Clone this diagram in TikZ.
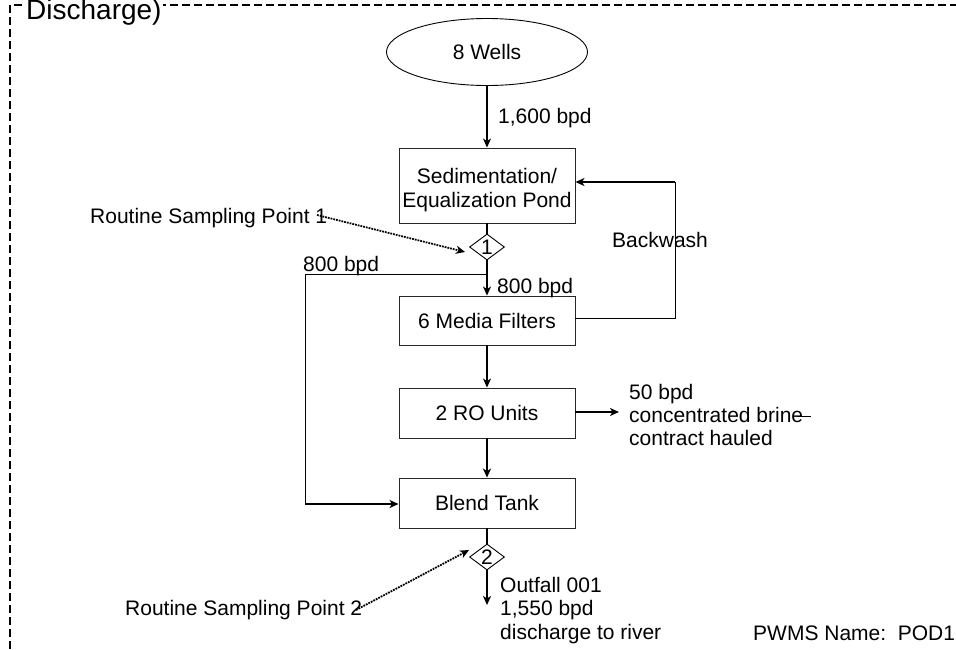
\documentclass[tikz,border=0pt]{standalone}
\usepackage{fontspec}
\setmainfont{Liberation Sans}
\usetikzlibrary{arrows.meta,shapes.geometric}
\begin{document}
\begin{tikzpicture}[x=1pt,y=-1pt,
  font=\fontsize{21}{23.5}\selectfont,
  tip/.tip={Stealth[length=9pt,width=8pt,inset=2.5pt]},
  unitbox/.style={draw=black!85,line width=0.9pt,minimum width=176pt,inner sep=0pt,align=center},
  samplept/.style={draw,line width=0.9pt,diamond,minimum width=35pt,minimum height=26pt,inner sep=0pt},
  flow/.style={line width=1.6pt,-tip},
  pipe/.style={line width=1.6pt},
  thinpipe/.style={line width=1pt},
  probe/.style={line width=1.8pt,densely dotted,-tip},
  lbl/.style={anchor=base west,inner sep=0pt},
  frameline/.style={line width=1.2pt,dash pattern=on 8pt off 4pt}]
\useasboundingbox (0,0) rectangle (956,649);

% outer dashed boundary
\draw[frameline] (10,649) -- (10,5) -- (956,5);
\node[lbl,fill=white,inner xsep=1pt,font=\fontsize{28}{30}\selectfont] (title) at (25,19) {Discharge)};

% process units
\node[draw,line width=0.9pt,ellipse,minimum width=201pt,minimum height=67pt,inner sep=0pt] (wells) at (487,52) {8 Wells};
\node[unitbox,minimum height=75pt] (pond) at (487,185.5) {\rule{0pt}{24pt}Sedimentation/\\Equalization Pond};
\node[samplept] (sp1) at (487,247) {};
\node[inner sep=0pt] (sp1t) at (487,247.5) {1};
\node[unitbox,minimum height=49pt] (filters) at (487,320.5) {6 Media Filters};
\node[unitbox,minimum height=50pt] (ro) at (487,413) {2 RO Units};
\node[unitbox,minimum height=50pt] (blend) at (487,503) {Blend Tank};
\node[samplept] (sp2) at (487,557) {};
\node[inner sep=0pt] (sp2t) at (487,557.5) {2};

% free ends and bends
\coordinate (split) at (487,274);
\coordinate (bypassTop) at (305,274);
\coordinate (bypassBot) at (305,504);
\coordinate (bwTop) at (675,182);
\coordinate (brine) at (619,412);
\coordinate (outfall) at (487,605);
\coordinate (probe1) at (317,215);
\coordinate (probe2) at (356,610);

% main flow
\draw[flow] (wells.south) -- (pond.north);
\draw[pipe] (pond.south) -- (sp1.north);
\draw[flow] (sp1.south) -- (filters.north);
\draw[flow] (filters.south) -- (ro.north);
\draw[flow] (ro.south) -- (blend.north);
\draw[pipe] (blend.south) -- (sp2.north);
\draw[flow] (sp2.south) -- (outfall);
\draw[flow] (ro.east |- brine) -- (brine);

% bypass to blend tank
\draw[thinpipe] (split) -- (bypassTop) -- (bypassBot);
\draw[flow] (bypassBot) -- (blend.west |- bypassBot);

% backwash return
\draw[thinpipe] (filters.east |- 0,318) -| (bwTop);
\draw[flow] (bwTop) -- (pond.east |- bwTop);

% sampling point callouts
\draw[probe] (probe1) -- ([xshift=-4pt,yshift=-5pt]sp1.west);
\draw[probe] (probe2) -- ([yshift=7pt]sp2.west);

% labels
\node[lbl] (q1600) at (498,123) {1,600 bpd};
\node[lbl] (rsp1) at (90,223) {Routine Sampling Point 1};
\node[lbl] (qbypass) at (303,271) {800 bpd};
\node[lbl] (qfilter) at (497,293) {800 bpd};
\node[lbl] (bw) at (612,247) {Backwash};
\node[lbl] (b1) at (629,399) {50 bpd};
\node[lbl] (b2) at (629,422) {concentrated brine};
\node[lbl] (b3) at (629,445) {contract hauled};
\draw[thinpipe] ([xshift=-6pt,yshift=5.5pt]b2.base east) -- ++(14,0);
\node[lbl] (rsp2) at (125,615) {Routine Sampling Point 2};
\node[lbl] (o1) at (500,592) {Outfall 001};
\node[lbl] (o2) at (500,615) {1,550 bpd};
\node[lbl] (o3) at (500,639) {discharge to river};
\node[lbl] (pwms) at (753,640) {PWMS Name:\ \ POD1};
\end{tikzpicture}
\end{document}
